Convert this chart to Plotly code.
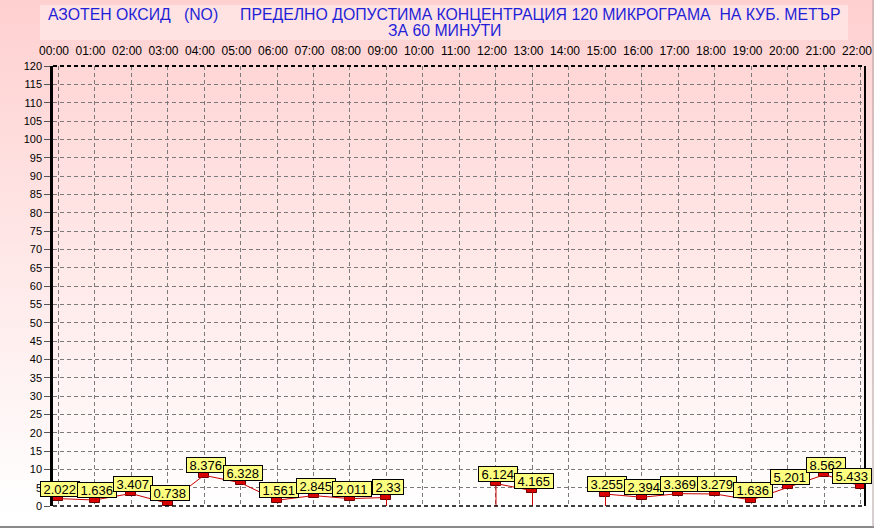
import base64
import plotly.graph_objects as go

hours = list(range(23))
hour_labels = [f"{h:02d}:00" for h in hours]
no_values = [2.022, 1.636, 3.407, 0.738, 8.376, 6.328, 1.561, 2.845, 2.011, 2.33,
             None, None, 6.124, 4.165, None, 3.255, 2.394, 3.369, 3.279, 1.636,
             5.201, 8.562, 5.433]
y_ticks = list(range(0, 121, 5))
title_line1 = "АЗОТЕН ОКСИД   (NO)     ПРЕДЕЛНО ДОПУСТИМА КОНЦЕНТРАЦИЯ 120 МИКРОГРАМА  НА КУБ. МЕТЪР"
title_line2 = "ЗА 60 МИНУТИ"

W, H = 874, 529
ML, MR, MT, MB = 53, 9, 66, 23
PW, PH = W - ML - MR, H - MT - MB
XR = [-0.137, 22.11]
YR = [0, 120]

svg = f'''<svg xmlns="http://www.w3.org/2000/svg" width="{W}" height="{H}" preserveAspectRatio="none">
<defs><linearGradient id="g" x1="0" y1="0" x2="0" y2="1">
<stop offset="0" stop-color="#FFD0D0"/><stop offset="0.97" stop-color="#FFFFFF"/><stop offset="1" stop-color="#FFFFFF"/>
</linearGradient></defs><rect width="{W}" height="{H}" fill="url(#g)"/></svg>'''
svg_uri = "data:image/svg+xml;base64," + base64.b64encode(svg.encode()).decode()

fig = go.Figure()

px_per_x = PW / (XR[1] - XR[0])
px_per_unit = PH / (YR[1] - YR[0])
mh = 5 / px_per_unit
mw = 10 / px_per_x
mx = [h for h, v in zip(hours, no_values) if v is not None]
mv = [v for v in no_values if v is not None]

dx, dy = [], []
for i, v in enumerate(no_values):
    if v is None:
        continue
    prev_gap = i > 0 and no_values[i - 1] is None
    next_gap = i < len(no_values) - 1 and no_values[i + 1] is None
    if prev_gap or next_gap:
        dx += [hours[i], hours[i], None]
        dy += [0, v, None]

fig.add_trace(go.Scatter(x=dx, y=dy, mode="lines", line=dict(color="#CC0000", width=1),
                         hoverinfo="skip", showlegend=False))
fig.add_trace(go.Scatter(x=hours, y=no_values, mode="lines", connectgaps=False,
                         line=dict(color="#CC0000", width=1), showlegend=False))
fig.add_trace(go.Bar(x=mx, y=[mh] * len(mv), base=[v - mh / 2 for v in mv], width=mw,
                     marker=dict(color="#DD0000", line=dict(color="#660000", width=1)),
                     showlegend=False))

for h, v in zip(mx, mv):
    s = f"{v:g}"
    tw = sum(3.6 if c == "." else 7.23 for c in s)
    bw = tw + 5
    cx = ML + (h - XR[0]) * px_per_x + 2
    right_limit = W - 2 - (bw + 2) / 2
    shift = 2 if cx <= right_limit else 2 - (cx - right_limit)
    fig.add_annotation(x=h, y=v, xref="x", yref="y", text=s, showarrow=False,
                       xanchor="center", yanchor="bottom", xshift=shift, yshift=2,
                       width=bw, height=14, borderpad=0,
                       bgcolor="#FFFF80", bordercolor="#000000", borderwidth=1,
                       font=dict(family="Liberation Sans, Arial", size=13, color="#000000"))

for txt, ypx in [(title_line1, 15), (title_line2, 31)]:
    fig.add_annotation(x=(444 - ML) / PW, y=1 + (MT - ypx) / PH, xref="paper", yref="paper",
                       text=txt, showarrow=False, xanchor="center", yanchor="middle",
                       font=dict(family="Liberation Sans, Arial", size=15.8, color="#1F1FD8"))

fig.add_shape(type="rect", xref="paper", yref="paper",
              x0=(40 - ML) / PW, x1=(848 - ML) / PW,
              y0=1 + (MT - 40) / PH, y1=1 + (MT - 5) / PH,
              fillcolor="#FFE2E2", line=dict(width=0), layer="below")
fig.add_shape(type="line", xref="paper", yref="paper", x0=0, x1=1, y0=1, y1=1,
              line=dict(color="#000000", width=2, dash="4px,3px"))
fig.add_shape(type="line", xref="paper", yref="paper", x0=0, x1=1, y0=0, y1=0,
              line=dict(color="#000000", width=1.5, dash="4px,3px"))
fig.add_shape(type="line", xref="paper", yref="paper", x0=1, x1=1, y0=0, y1=1,
              line=dict(color="#000000", width=2))
fig.add_shape(type="line", xref="paper", yref="paper",
              x0=-ML / PW, x1=1 + MR / PW, y0=-(MB - 2) / PH, y1=-(MB - 2) / PH,
              line=dict(color="#8A8A8A", width=2))
fig.add_shape(type="line", xref="paper", yref="paper",
              x0=1 + (MR - 1) / PW, x1=1 + (MR - 1) / PW, y0=-(MB - 2) / PH, y1=1 + MT / PH,
              line=dict(color="#B0A0A0", width=1))

fig.add_layout_image(source=svg_uri, xref="paper", yref="paper",
                     x=-ML / PW, y=1 + MT / PH, sizex=W / PW, sizey=H / PH,
                     xanchor="left", yanchor="top", sizing="stretch", layer="below")

fig.update_layout(
    width=W, height=H,
    margin=dict(l=ML, r=MR, t=MT, b=MB, autoexpand=False),
    paper_bgcolor="#FFFFFF", plot_bgcolor="rgba(0,0,0,0)",
    bargap=0,
    xaxis=dict(range=XR, side="top", tickvals=hours, ticktext=hour_labels,
               showgrid=True, gridcolor="#7A7A7A", griddash="4px,3px", gridwidth=1,
               zeroline=False, showline=False, ticks="", ticklabelstandoff=8,
               ticklabelshift=-4, ticklabeloverflow="allow",
               tickfont=dict(family="Liberation Sans, Arial", size=12, color="#000000")),
    yaxis=dict(range=YR, tickvals=y_ticks, showgrid=True, gridcolor="#7A7A7A",
               griddash="4px,3px", gridwidth=1, zeroline=False,
               showline=True, linecolor="#000000", linewidth=2.5,
               ticks="outside", ticklen=6, tickcolor="#555555",
               tickfont=dict(family="Liberation Sans, Arial", size=11, color="#000000")),
)

fig.write_html("out.html", config={"displayModeBar": False})
with open("out.html", encoding="utf-8") as f:
    html = f.read()
html = html.replace("<body>", '<body style="margin:0;padding:0;overflow:hidden">', 1)
html = html.replace("<head>", '<head><style>html,body{margin:0;padding:0;}</style>', 1)
with open("out.html", "w", encoding="utf-8") as f:
    f.write(html)
